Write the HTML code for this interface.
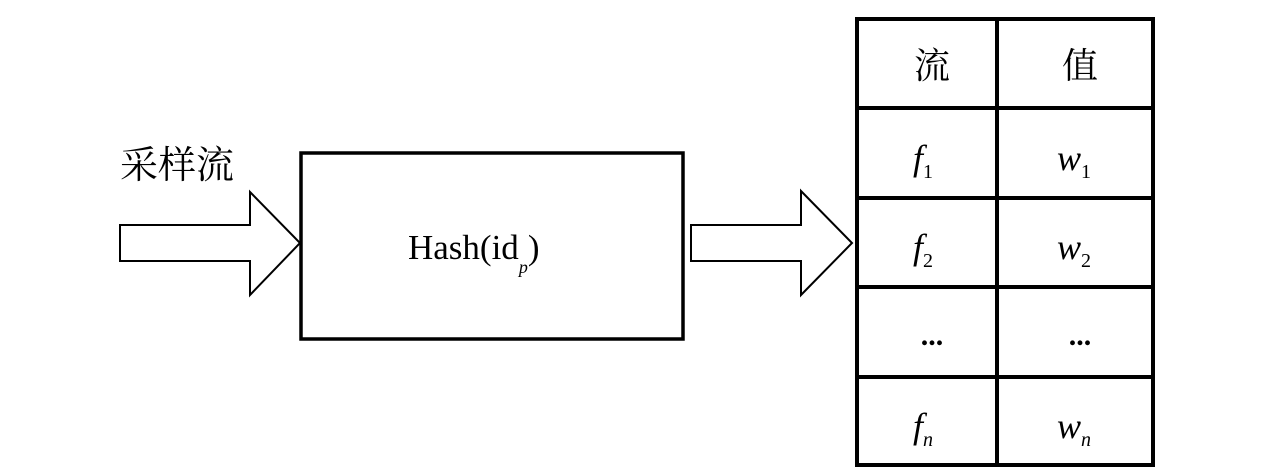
<!DOCTYPE html>
<html><head><meta charset="utf-8"><style>body{margin:0;background:#fff}svg{display:block}</style></head><body>
<svg width="1276" height="469" xmlns="http://www.w3.org/2000/svg" font-family="Liberation Serif, 'Noto Serif CJK SC', serif">
<rect width="1276" height="469" fill="#fff"/>
<polygon points="120,225 250,225 250,192 300,243 250,295 250,261 120,261" fill="#fff" stroke="#000" stroke-width="2"/>
<polygon points="691,225 801,225 801,191 852,243 801,295 801,261 691,261" fill="#fff" stroke="#000" stroke-width="2"/>
<text x="120" y="178" font-size="38" font-family="'Noto Serif CJK SC', serif">采样流</text>
<rect x="301" y="153" width="382" height="186" fill="none" stroke="#000" stroke-width="3.5"/>
<text x="408" y="259" font-size="35">Hash(id<tspan font-size="18" font-style="italic" dy="14">p</tspan><tspan dy="-14">)</tspan></text>
<g stroke="#000" stroke-width="4" fill="none">
<rect x="857" y="19" width="296" height="446"/>
<line x1="997" y1="19" x2="997" y2="465"/>
<line x1="857" y1="108" x2="1153" y2="108"/>
<line x1="857" y1="198" x2="1153" y2="198"/>
<line x1="857" y1="287" x2="1153" y2="287"/>
<line x1="857" y1="377" x2="1153" y2="377"/>
</g>
<g font-size="36" text-anchor="middle" font-family="'Noto Serif CJK SC', serif">
<text x="932" y="78">流</text><text x="1080" y="78">值</text>
</g>
<g font-size="36" font-style="italic">
<text x="913" y="170">f<tspan font-size="20" font-style="normal" dy="8">1</tspan></text>
<text x="1057" y="170">w<tspan font-size="20" font-style="normal" dy="8">1</tspan></text>
<text x="913" y="259">f<tspan font-size="20" font-style="normal" dy="8">2</tspan></text>
<text x="1057" y="259">w<tspan font-size="20" font-style="normal" dy="8">2</tspan></text>
<text x="913" y="438">f<tspan font-size="20" dy="8">n</tspan></text>
<text x="1057" y="438">w<tspan font-size="20" dy="8">n</tspan></text>
</g>
<g font-size="30" text-anchor="middle" font-weight="bold">
<text x="932" y="345">...</text><text x="1080" y="345">...</text>
</g>
</svg>
</body></html>
